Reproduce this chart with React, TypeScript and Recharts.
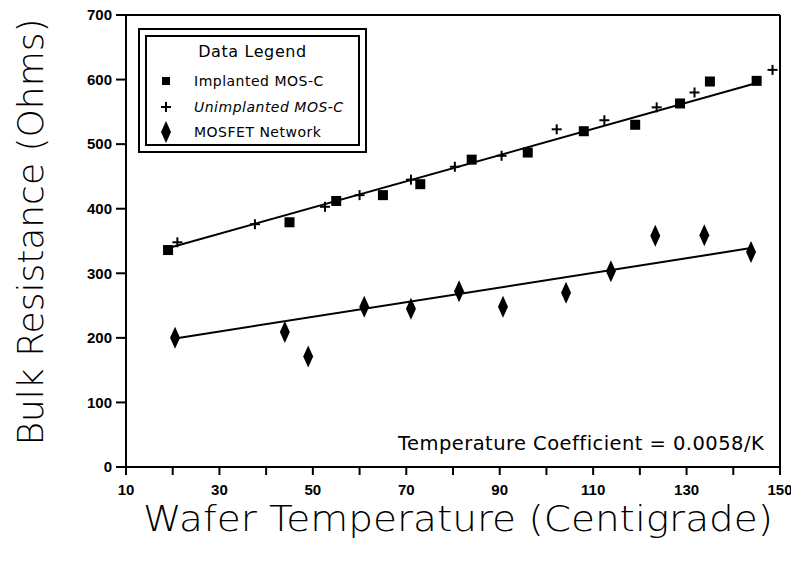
import React from "react";
import {
  ScatterChart, Scatter, XAxis, YAxis, ReferenceLine, Label,
} from "recharts";

// values
const implanted = [
  { x: 19, y: 336 }, { x: 45, y: 379 }, { x: 55, y: 412 }, { x: 65, y: 421 },
  { x: 73, y: 438 }, { x: 84, y: 476 }, { x: 96, y: 487 }, { x: 108, y: 520 },
  { x: 119, y: 530 }, { x: 128.6, y: 563 }, { x: 135, y: 597 }, { x: 145, y: 598 },
];
const unimplanted = [
  { x: 21, y: 348 }, { x: 37.6, y: 376 }, { x: 52.6, y: 403 }, { x: 60, y: 421 },
  { x: 71, y: 445 }, { x: 80.4, y: 465 }, { x: 90.4, y: 482 }, { x: 102.2, y: 523 },
  { x: 112.4, y: 537 }, { x: 123.6, y: 557 }, { x: 131.7, y: 580 }, { x: 148.4, y: 615 },
];
const mosfet = [
  { x: 20.5, y: 200 }, { x: 44, y: 209 }, { x: 49, y: 171 }, { x: 61, y: 248 },
  { x: 71, y: 245 }, { x: 81.3, y: 272 }, { x: 90.7, y: 248 }, { x: 104.2, y: 270 },
  { x: 113.8, y: 303 }, { x: 123.3, y: 358 }, { x: 133.8, y: 359 }, { x: 143.8, y: 333 },
];
// fitted lines (end points)
const mosFit = [{ x: 19.5, y: 340 }, { x: 145.2, y: 595 }];
const mosfetFit = [{ x: 20.5, y: 199 }, { x: 143.8, y: 339 }];

const xTicks = [10, 20, 30, 40, 50, 60, 70, 80, 90, 100, 110, 120, 130, 140, 150];
const yTicks = [0, 100, 200, 300, 400, 500, 600, 700];

const W = 799;
const H = 565;
const tickFont = { fill: "#000", fontSize: 15, fontWeight: "bold", fontFamily: "Liberation Sans, Arial, sans-serif" };
const titleFont = "DejaVu Sans, sans-serif";

const SquareShape = (p: any) => (
  <rect x={p.cx - 5} y={p.cy - 5} width={10} height={10} fill="#000" />
);
const PlusShape = (p: any) => (
  <g stroke="#000" strokeWidth={2}>
    <line x1={p.cx - 5} y1={p.cy} x2={p.cx + 5} y2={p.cy} />
    <line x1={p.cx} y1={p.cy - 5} x2={p.cx} y2={p.cy + 5} />
  </g>
);
const DiamondShape = (p: any) => (
  <path d={`M${p.cx},${p.cy - 11} L${p.cx + 5},${p.cy} L${p.cx},${p.cy + 11} L${p.cx - 5},${p.cy} Z`} fill="#000" />
);
const NoShape = () => null;

function DataLegend() {
  const row = { display: "flex", alignItems: "center", height: 26, letterSpacing: 0.5 } as const;
  const mark = { width: 38, marginRight: 9, display: "flex", justifyContent: "center" } as const;
  return (
    <div style={{ position: "absolute", left: 138, top: 28, border: "2px solid #000", padding: 5, background: "#fff" }}>
      <div style={{ border: "2px solid #000", width: 215, height: 111, boxSizing: "border-box",
                    fontFamily: titleFont, fontSize: 14, color: "#000", paddingTop: 3 }}>
        <div style={{ textAlign: "center", fontSize: 16, letterSpacing: 0.6, height: 28, lineHeight: "24px" }}>Data Legend</div>
        <div style={row}>
          <span style={mark}><svg width="10" height="10"><rect x="1" y="1" width="8" height="8" fill="#000" /></svg></span>
          <span>Implanted MOS-C</span>
        </div>
        <div style={row}>
          <span style={mark}><svg width="10" height="10"><path d="M0,5 H10 M5,0 V10" stroke="#000" strokeWidth="2" /></svg></span>
          <span style={{ fontStyle: "italic" }}>Unimplanted MOS-C</span>
        </div>
        <div style={{ ...row, height: 24 }}>
          <span style={mark}><svg width="10" height="22"><path d="M5,0 L10,11 L5,22 L0,11 Z" fill="#000" /></svg></span>
          <span>MOSFET Network</span>
        </div>
      </div>
    </div>
  );
}

export default function App() {
  return (
    <div style={{ position: "relative", width: W, height: H, margin: -8, background: "#fff" }}>
      <ScatterChart width={W} height={H} margin={{ top: 15, right: 19, bottom: 0, left: 0 }}>
        <XAxis
          type="number"
          dataKey="x"
          domain={[10, 150]}
          ticks={xTicks}
          interval={0}
          tickFormatter={(v: number) => ((v - 10) % 20 === 0 ? String(v) : "")}
          tick={tickFont}
          axisLine={{ stroke: "#000", strokeWidth: 2 }}
          tickLine={{ stroke: "#000", strokeWidth: 2 }}
          tickSize={8}
          tickMargin={9}
          height={98}
        >
          <Label
            content={() => (
              <text x={458} y={531} textAnchor="middle" fontFamily={titleFont} fontSize={36}
                    fontWeight={200} fill="#000" textLength={630} lengthAdjust="spacingAndGlyphs">
                Wafer Temperature (Centigrade)
              </text>
            )}
          />
        </XAxis>
        <YAxis
          type="number"
          dataKey="y"
          domain={[0, 700]}
          ticks={yTicks}
          interval={0}
          tick={tickFont}
          axisLine={{ stroke: "#000", strokeWidth: 2 }}
          tickLine={{ stroke: "#000", strokeWidth: 2 }}
          tickSize={10}
          tickMargin={4}
          width={126}
        >
          <Label
            content={() => (
              <text x={43} y={232} transform="rotate(-90 43 232)" textAnchor="middle" fontFamily={titleFont}
                    fontSize={35} fontWeight={200} fill="#000" textLength={427} lengthAdjust="spacingAndGlyphs">
                Bulk Resistance (Ohms)
              </text>
            )}
          />
        </YAxis>
        <ReferenceLine y={700} stroke="#000" strokeWidth={2} />
        <ReferenceLine x={150} stroke="#000" strokeWidth={2} />

        <Scatter data={mosFit} line={{ stroke: "#000", strokeWidth: 2 }} shape={NoShape} isAnimationActive={false} legendType="none" />
        <Scatter data={mosfetFit} line={{ stroke: "#000", strokeWidth: 2 }} shape={NoShape} isAnimationActive={false} legendType="none" />
        <Scatter name="Implanted MOS-C" data={implanted} shape={SquareShape} isAnimationActive={false} />
        <Scatter name="Unimplanted MOS-C" data={unimplanted} shape={PlusShape} isAnimationActive={false} />
        <Scatter name="MOSFET Network" data={mosfet} shape={DiamondShape} isAnimationActive={false} />
      </ScatterChart>
      <DataLegend />
      <div style={{ position: "absolute", left: 398, top: 432, fontFamily: titleFont, fontSize: 19.5,
                    color: "#000", whiteSpace: "nowrap", letterSpacing: 0.45 }}>
        Temperature Coefficient = 0.0058/K
      </div>
    </div>
  );
}
